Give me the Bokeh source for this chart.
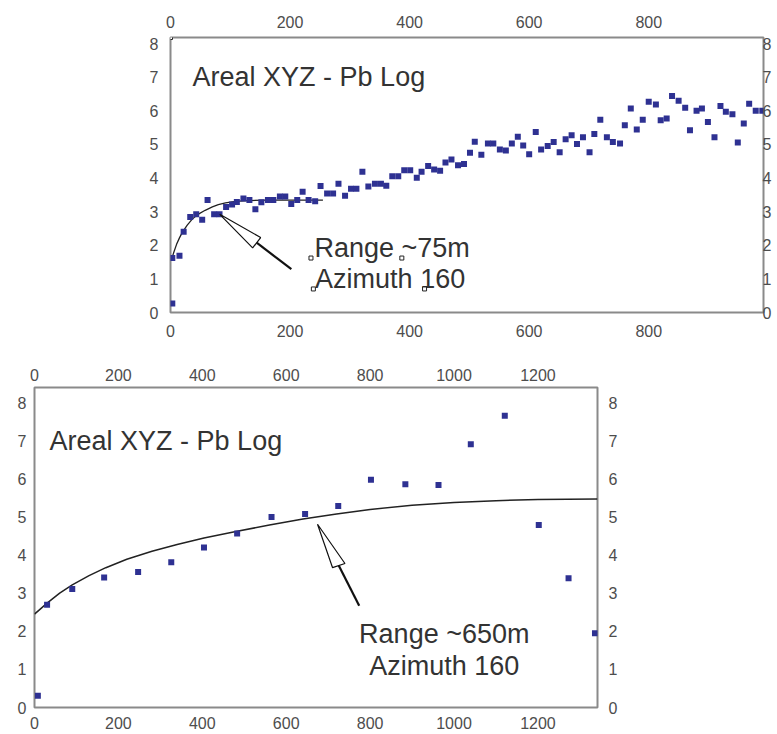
from bokeh.plotting import figure
from bokeh.models import LinearAxis, FixedTicker, Range1d
from bokeh.layouts import column
from bokeh.core.properties import value
from bokeh.embed import file_html
from bokeh.resources import INLINE

# ---------------- data: top chart (short lags) ----------------
top_lag = [3, 3, 15, 22, 33, 43, 53, 62, 73, 82, 93, 103, 111, 122, 132, 142, 152, 163, 172, 183,
           192, 202, 212, 221, 231, 242, 251, 262, 272, 281, 292, 302, 311, 321, 331, 342, 352, 361,
           371, 381, 391, 401, 412, 420, 431, 441, 451, 460, 470, 481, 491, 501, 509, 520, 531, 540,
           551, 561, 571, 581, 590, 600, 611, 620, 631, 641, 651, 661, 671, 680, 690, 701, 709, 719,
           730, 740, 752, 760, 770, 780, 790, 800, 812, 820, 830, 839, 850, 861, 869, 880, 889, 899,
           910, 920, 929, 940, 949, 959, 968, 979, 990]
top_val = [0.27, 1.62, 1.69, 2.40, 2.84, 2.92, 2.76, 3.35, 2.92, 2.92, 3.14, 3.21, 3.29, 3.39, 3.35,
           3.07, 3.28, 3.35, 3.35, 3.45, 3.45, 3.23, 3.35, 3.59, 3.35, 3.31, 3.76, 3.54, 3.54, 3.83,
           3.47, 3.68, 3.68, 4.19, 3.75, 3.83, 3.83, 3.77, 4.05, 4.05, 4.23, 4.23, 4.01, 4.19, 4.36,
           4.25, 4.22, 4.46, 4.55, 4.38, 4.42, 4.75, 5.08, 4.69, 5.03, 5.03, 4.85, 4.82, 5.03, 5.23,
           4.97, 4.71, 5.37, 4.85, 4.95, 5.07, 4.77, 5.15, 5.27, 5.01, 5.21, 4.77, 5.31, 5.73, 5.21,
           5.07, 5.03, 5.57, 6.07, 5.44, 5.73, 6.27, 6.19, 5.72, 5.77, 6.44, 6.30, 6.09, 5.42, 6.00,
           6.07, 5.67, 5.21, 6.14, 5.97, 5.90, 5.06, 5.62, 6.21, 6.00, 6.00]
top_fit_lag = [2, 5, 10, 15, 20, 28, 36, 46, 58, 70, 80, 92, 103, 115, 132, 160, 200, 255]
top_fit_val = [1.60, 1.76, 2.02, 2.22, 2.39, 2.60, 2.77, 2.92, 3.04, 3.14, 3.21, 3.26, 3.29, 3.31,
               3.33, 3.34, 3.34, 3.34]

# ---------------- data: bottom chart (long lags) ----------------
bot_lag = [8, 30, 90, 166, 247, 326, 404, 483, 565, 645, 724, 802, 884, 963, 1040, 1121, 1202, 1273, 1336]
bot_val = [0.31, 2.70, 3.11, 3.41, 3.56, 3.81, 4.20, 4.57, 5.00, 5.08, 5.29, 5.98, 5.86, 5.84, 6.91,
           7.66, 4.79, 3.39, 1.95]
bot_fit_lag = [0, 30, 60, 90, 130, 170, 220, 280, 340, 404, 480, 560, 640, 720, 800, 900, 1000,
               1100, 1200, 1342]
bot_fit_val = [2.45, 2.74, 3.00, 3.22, 3.46, 3.67, 3.89, 4.10, 4.28, 4.45, 4.62, 4.79, 4.95, 5.08,
               5.20, 5.31, 5.38, 5.43, 5.46, 5.47]

top_x_ticks = [0, 200, 400, 600, 800]
bot_x_ticks = [0, 200, 400, 600, 800, 1000, 1200]
y_ticks = [0, 1, 2, 3, 4, 5, 6, 7, 8]

title_text = "Areal XYZ - Pb Log"
top_note = ["Range ~75m", "Azimuth 160"]
bot_note = ["Range ~650m", "Azimuth 160"]

# annotation geometry (data units)
top_title_xy = (36.9, 7.01)
top_note_x = [240.7, 241.9]
top_note_y = [1.92, 1.01]
bot_title_xy = (35.9, 7.00)
bot_note_x = [976.8, 976.8]
bot_note_y = [1.92, 1.09]
top_arrow_head_x = [82.4, 137.4, 150.8]
top_arrow_head_y = [2.92, 1.92, 2.23]
top_arrow_shaft_x = [144.1, 202.2]
top_arrow_shaft_y = [2.075, 1.29]
bot_arrow_head_x = [674.6, 710.5, 740.0]
bot_arrow_head_y = [4.81, 3.67, 3.78]
bot_arrow_shaft_x = [725.2, 774.0]
bot_arrow_shaft_y = [3.725, 2.67]
handle_x = [235, 387, 239, 425, 0]
handle_y = [1.62, 1.62, 0.70, 0.70, 8.18]

FONT = "Liberation Sans"
PT_COLOR = "#2e3192"
TEXT_COLOR = "#333333"
TICK_COLOR = "#4d4d4d"
FRAME_COLOR = "#8a8a8a"


def style_axis(ax, ticks, standoff):
    ax.ticker = FixedTicker(ticks=ticks)
    ax.axis_line_color = None
    ax.major_tick_line_color = None
    ax.minor_tick_line_color = None
    ax.major_tick_out = 0
    ax.major_tick_in = 0
    ax.major_label_standoff = standoff
    ax.major_label_text_font = FONT
    ax.major_label_text_font_size = "16px"
    ax.major_label_text_color = TICK_COLOR


def make_fig(width, height, xmax, ymax, borders, xticks, standoffs):
    p = figure(width=width, height=height, x_range=Range1d(0, xmax), y_range=Range1d(0, ymax),
               output_backend="svg", toolbar_location=None, frame_align=False,
               min_border_left=borders[0], min_border_right=borders[1],
               min_border_top=borders[2], min_border_bottom=borders[3])
    p.xgrid.visible = False
    p.ygrid.visible = False
    p.outline_line_color = FRAME_COLOR
    p.outline_line_width = 2
    p.background_fill_color = "white"
    p.border_fill_color = "white"
    p.add_layout(LinearAxis(), "above")
    p.add_layout(LinearAxis(), "right")
    style_axis(p.below[0], xticks, standoffs["below"])
    style_axis(p.above[0], xticks, standoffs["above"])
    style_axis(p.left[0], y_ticks, standoffs["left"])
    style_axis(p.right[0], y_ticks, standoffs["right"])
    return p


def add_text(p, xs, ys, texts, align):
    p.text(xs, ys, text=texts, text_font=value(FONT), text_font_size="27px",
           text_color=TEXT_COLOR, text_baseline="alphabetic", text_align=align)


# ---------------- top chart ----------------
p1 = make_fig(777, 343, 992, 8.18, (170, 14, 37, 31), top_x_ticks,
              {"below": 12, "above": 10, "left": 12, "right": -1})
p1.line(top_fit_lag, top_fit_val, line_color="#222222", line_width=1.3)
p1.scatter(top_lag, top_val, marker="square", size=6, fill_color=PT_COLOR, line_color=None)
p1.patch(top_arrow_head_x, top_arrow_head_y, fill_color="white", line_color="#111111", line_width=1.2)
p1.line(top_arrow_shaft_x, top_arrow_shaft_y, line_color="#111111", line_width=2.2)
add_text(p1, [top_title_xy[0]], [top_title_xy[1]], [title_text], "left")
add_text(p1, top_note_x, top_note_y, top_note, "left")
p1.scatter(handle_x, handle_y, marker="square", size=4, fill_color="white", line_color="#222222",
           line_width=1)

# ---------------- bottom chart ----------------
p2 = make_fig(622, 391, 1342, 8.4, (34, 25, 44, 27), bot_x_ticks,
              {"below": 9, "above": 7, "left": 8, "right": 11})
p2.line(bot_fit_lag, bot_fit_val, line_color="#222222", line_width=1.5)
p2.scatter(bot_lag, bot_val, marker="square", size=6, fill_color=PT_COLOR, line_color=None)
p2.patch(bot_arrow_head_x, bot_arrow_head_y, fill_color="white", line_color="#111111", line_width=1.2)
p2.line(bot_arrow_shaft_x, bot_arrow_shaft_y, line_color="#111111", line_width=2.2)
add_text(p2, [bot_title_xy[0]], [bot_title_xy[1]], [title_text], "left")
add_text(p2, bot_note_x, bot_note_y, bot_note, "center")

layout = column(p1, p2, spacing=0)

open("out.html", "w").write(file_html(layout, INLINE))
